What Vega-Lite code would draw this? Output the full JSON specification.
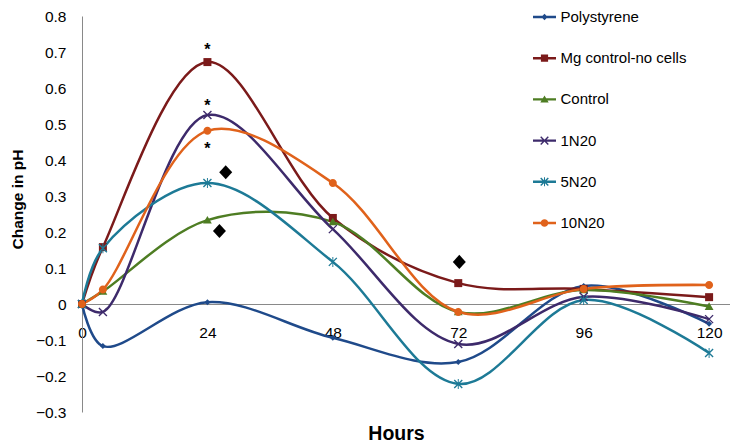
{
  "$schema": "https://vega.github.io/schema/vega-lite/v6.json",
  "width": 648,
  "height": 396,
  "autosize": {"type": "none"},
  "padding": {"left": 82, "top": 16, "right": 0, "bottom": 36},
  "background": "white",
  "config": {
    "view": {"stroke": null},
    "font": "Liberation Sans",
    "axis": {"grid": false, "ticks": false, "domainColor": "#898989", "domainWidth": 1, "labelColor": "black", "titleColor": "black", "labelFont": "Liberation Sans", "titleFont": "Liberation Sans", "labelFlush": false, "labelOverlap": false},
    "legend": {"orient": "none", "legendX": 452.5, "legendY": -9, "title": null, "padding": 0, "symbolSize": 400, "labelFontSize": 15, "labelFont": "Liberation Sans", "labelColor": "black", "labelOffset": 6, "rowPadding": 23.2, "symbolOpacity": 1, "symbolStrokeWidth": 0}
  },
  "datasets": {
    "series": [
      {"series": "Polystyrene", "hours": 0, "change": 0},
      {"series": "Polystyrene", "hours": 4, "change": -0.117},
      {"series": "Polystyrene", "hours": 24, "change": 0.005},
      {"series": "Polystyrene", "hours": 48, "change": -0.094},
      {"series": "Polystyrene", "hours": 72, "change": -0.161},
      {"series": "Polystyrene", "hours": 96, "change": 0.05},
      {"series": "Polystyrene", "hours": 120, "change": -0.055},
      {"series": "Mg control-no cells", "hours": 0, "change": 0},
      {"series": "Mg control-no cells", "hours": 4, "change": 0.158},
      {"series": "Mg control-no cells", "hours": 24, "change": 0.672},
      {"series": "Mg control-no cells", "hours": 48, "change": 0.239},
      {"series": "Mg control-no cells", "hours": 72, "change": 0.058},
      {"series": "Mg control-no cells", "hours": 96, "change": 0.042},
      {"series": "Mg control-no cells", "hours": 120, "change": 0.019},
      {"series": "Control", "hours": 0, "change": 0},
      {"series": "Control", "hours": 4, "change": 0.035},
      {"series": "Control", "hours": 24, "change": 0.233},
      {"series": "Control", "hours": 48, "change": 0.228},
      {"series": "Control", "hours": 72, "change": -0.022},
      {"series": "Control", "hours": 96, "change": 0.039},
      {"series": "Control", "hours": 120, "change": -0.007},
      {"series": "1N20", "hours": 0, "change": 0},
      {"series": "1N20", "hours": 4, "change": -0.022},
      {"series": "1N20", "hours": 24, "change": 0.525},
      {"series": "1N20", "hours": 48, "change": 0.208},
      {"series": "1N20", "hours": 72, "change": -0.111},
      {"series": "1N20", "hours": 96, "change": 0.02},
      {"series": "1N20", "hours": 120, "change": -0.042},
      {"series": "5N20", "hours": 0, "change": 0},
      {"series": "5N20", "hours": 4, "change": 0.155},
      {"series": "5N20", "hours": 24, "change": 0.336},
      {"series": "5N20", "hours": 48, "change": 0.117},
      {"series": "5N20", "hours": 72, "change": -0.222},
      {"series": "5N20", "hours": 96, "change": 0.011},
      {"series": "5N20", "hours": 120, "change": -0.136},
      {"series": "10N20", "hours": 0, "change": 0},
      {"series": "10N20", "hours": 4, "change": 0.04},
      {"series": "10N20", "hours": 24, "change": 0.481},
      {"series": "10N20", "hours": 48, "change": 0.336},
      {"series": "10N20", "hours": 72, "change": -0.022},
      {"series": "10N20", "hours": 96, "change": 0.042},
      {"series": "10N20", "hours": 120, "change": 0.053}
    ],
    "stars": [
      {"hours": 24, "change": 0.718},
      {"hours": 24, "change": 0.56},
      {"hours": 24, "change": 0.442}
    ],
    "diamonds": [
      {"hours": 27.5, "change": 0.366},
      {"hours": 26.3, "change": 0.203},
      {"hours": 72.2, "change": 0.117}
    ]
  },
  "encoding": {
    "x": {
      "field": "hours", "type": "quantitative",
      "scale": {"domain": [0, 124], "nice": false, "zero": false},
      "axis": {"values": [0, 24, 48, 72, 96, 120], "offset": -108, "labelPadding": 21, "labelFontSize": 15.5, "title": "Hours", "titleFontSize": 19.5, "titleFontWeight": "bold", "titleX": 314, "titleY": 135, "titleBaseline": "alphabetic", "titleAlign": "center"}
    },
    "y": {
      "field": "change", "type": "quantitative",
      "scale": {"domain": [-0.3, 0.8], "nice": false, "zero": false},
      "axis": {"values": [-0.3, -0.2, -0.1, 0, 0.1, 0.2, 0.3, 0.4, 0.5, 0.6, 0.7, 0.8], "format": "~g", "labelPadding": 16, "labelFontSize": 15.5, "title": "Change in pH", "titleFontSize": 15.5, "titleFontWeight": "bold", "titleX": -57, "titleY": 183, "titleAlign": "center"}
    },
    "color": {
      "field": "series", "type": "nominal",
      "scale": {"domain": ["Polystyrene", "Mg control-no cells", "Control", "1N20", "5N20", "10N20"], "range": ["#1f4a8a", "#7b1a1a", "#4e7d23", "#3d2a6b", "#1d7a96", "#e0621b"]},
      "legend": {
        "encode": {"symbols": {"update": {
          "shape": {"signal": "datum.value === 'Polystyrene' ? 'M-1.15,-0.12H1.15V0.12H-1.15ZM0,-0.32L0.32,0L0,0.32L-0.32,0Z' : datum.value === 'Mg control-no cells' ? 'M-1.15,-0.12H1.15V0.12H-1.15ZM-0.36,-0.36H0.36V0.36H-0.36Z' : datum.value === 'Control' ? 'M-1.15,-0.12H1.15V0.12H-1.15ZM0,-0.4L0.42,0.32H-0.42Z' : datum.value === '1N20' ? 'M-1.15,-0.12H1.15V0.12H-1.15ZM-0.33,-0.43L0.43,0.33L0.33,0.43L-0.43,-0.33ZM0.43,-0.33L-0.33,0.43L-0.43,0.33L0.33,-0.43Z' : datum.value === '5N20' ? 'M-1.15,-0.12H1.15V0.12H-1.15ZM-0.33,-0.43L0.43,0.33L0.33,0.43L-0.43,-0.33ZM0.43,-0.33L-0.33,0.43L-0.43,0.33L0.33,-0.43ZM-0.05,-0.45H0.05V0.45H-0.05Z' : 'M-1.15,-0.12H1.15V0.12H-1.15ZM0.38,0A0.38,0.38 0 1,1 -0.38,0A0.38,0.38 0 1,1 0.38,0Z'"},
          "fill": {"scale": "color", "field": "value"},
          "stroke": {"value": "transparent"},
          "opacity": {"value": 1}
        }}}
      }
    }
  },
  "layer": [
    {
      "data": {"name": "series"},
      "mark": {"type": "line", "interpolate": "catmull-rom", "strokeWidth": 2.5}
    },
    {
      "data": {"name": "series"},
      "transform": [{"filter": "datum.series === 'Polystyrene'"}],
      "mark": {"type": "point", "filled": true, "opacity": 1, "size": 64, "shape": "M0,-0.75L0.75,0L0,0.75L-0.75,0Z"}
    },
    {
      "data": {"name": "series"},
      "transform": [{"filter": "datum.series === 'Mg control-no cells'"}],
      "mark": {"type": "point", "filled": true, "opacity": 1, "size": 64, "shape": "M-1,-1H1V1H-1Z"}
    },
    {
      "data": {"name": "series"},
      "transform": [{"filter": "datum.series === 'Control'"}],
      "mark": {"type": "point", "filled": true, "opacity": 1, "size": 64, "shape": "M0,-1.05L1.1,0.85H-1.1Z"}
    },
    {
      "data": {"name": "series"},
      "transform": [{"filter": "datum.series === '1N20'"}],
      "mark": {"type": "point", "filled": true, "opacity": 1, "size": 64, "shape": "M-0.88,-1.12L1.12,0.88L0.88,1.12L-1.12,-0.88ZM1.12,-0.88L-0.88,1.12L-1.12,0.88L0.88,-1.12Z"}
    },
    {
      "data": {"name": "series"},
      "transform": [{"filter": "datum.series === '5N20'"}],
      "mark": {"type": "point", "filled": true, "opacity": 1, "size": 64, "shape": "M-0.88,-1.12L1.12,0.88L0.88,1.12L-1.12,-0.88ZM1.12,-0.88L-0.88,1.12L-1.12,0.88L0.88,-1.12ZM-0.12,-1.25H0.12V1.25H-0.12Z"}
    },
    {
      "data": {"name": "series"},
      "transform": [{"filter": "datum.series === '10N20'"}],
      "mark": {"type": "point", "filled": true, "opacity": 1, "size": 64, "shape": "M1,0A1,1 0 1,1 -1,0A1,1 0 1,1 1,0Z"}
    },
    {
      "data": {"name": "stars"},
      "mark": {"type": "text", "text": "*", "fontSize": 16, "fontWeight": "bold", "baseline": "alphabetic", "dy": 9, "color": "black", "font": "Liberation Sans"},
      "encoding": {"color": null}
    },
    {
      "data": {"name": "diamonds"},
      "mark": {"type": "point", "shape": "M0,-1.08L1,0L0,1.08L-1,0Z", "filled": true, "color": "black", "opacity": 1, "size": 169},
      "encoding": {"color": null}
    }
  ]
}
